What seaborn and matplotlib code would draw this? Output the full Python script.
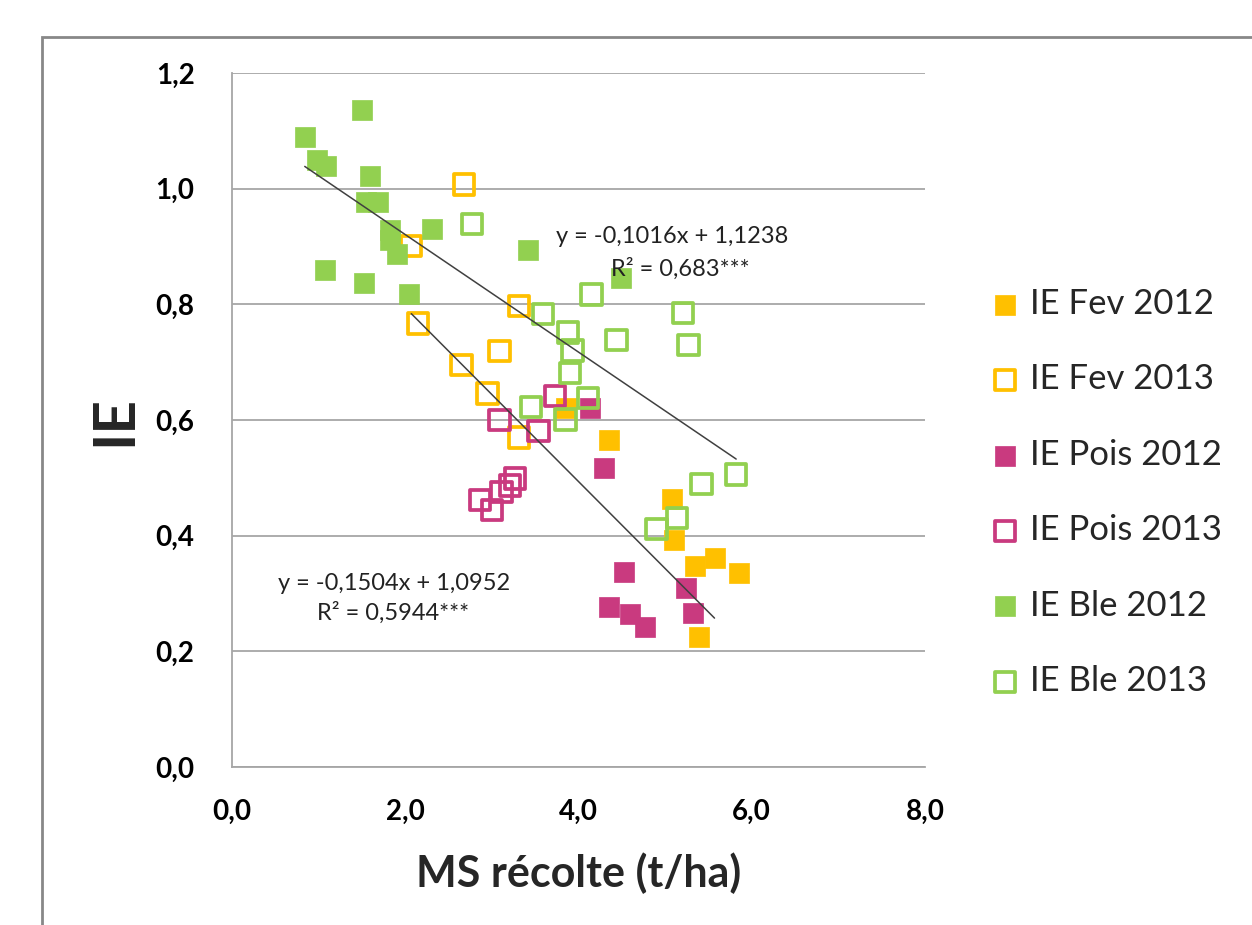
"""
IE vs MS recolte scatter, Fev / Pois / Ble for 2012 and 2013 with two trend lines
"""

import numpy as np
import pandas as pd
import seaborn as sns
import matplotlib.pyplot as plt
from matplotlib.patches import Rectangle

# values
fev_2012_x = [3.85, 4.35, 5.08, 5.10, 5.35, 5.57, 5.85, 5.39]
fev_2012_y = [0.620, 0.566, 0.464, 0.392, 0.347, 0.362, 0.335, 0.225]

fev_2013_x = [2.68, 2.07, 3.31, 2.15, 3.09, 2.65, 2.95, 3.31]
fev_2013_y = [1.007, 0.901, 0.797, 0.767, 0.719, 0.695, 0.646, 0.570]

pois_2012_x = [4.13, 4.30, 4.52, 4.35, 4.60, 4.77, 5.24, 5.32]
pois_2012_y = [0.620, 0.517, 0.338, 0.276, 0.265, 0.242, 0.310, 0.267]

pois_2013_x = [3.73, 3.09, 3.54, 2.86, 3.00, 3.11, 3.21, 3.27]
pois_2013_y = [0.641, 0.600, 0.581, 0.462, 0.444, 0.476, 0.487, 0.499]

ble_2012_x = [0.84, 0.98, 1.08, 1.50, 1.59, 1.55, 1.69, 1.82,
              1.82, 1.90, 2.31, 1.07, 1.52, 2.04, 3.42, 4.49]
ble_2012_y = [1.089, 1.049, 1.040, 1.136, 1.022, 0.977, 0.977, 0.928,
              0.911, 0.887, 0.930, 0.859, 0.837, 0.818, 0.894, 0.846]

ble_2013_x = [2.77, 4.15, 3.59, 3.88, 3.93, 4.44, 5.21, 5.27,
              3.90, 3.45, 4.11, 3.85, 5.82, 5.42, 5.14, 4.90]
ble_2013_y = [0.939, 0.817, 0.783, 0.751, 0.720, 0.738, 0.785, 0.730,
              0.681, 0.623, 0.638, 0.601, 0.506, 0.489, 0.430, 0.411]

series_labels = ["IE Fev 2012", "IE Fev 2013", "IE Pois 2012",
                 "IE Pois 2013", "IE Ble 2012", "IE Ble 2013"]

# trend lines as printed on the chart: slope, intercept, x range
trend_ble = (-0.1016, 1.1238, [0.84, 5.82])
trend_fev = (-0.1504, 1.0952, [2.07, 5.57])

x_ticks = [0, 2, 4, 6, 8]
x_tick_labels = ["0,0", "2,0", "4,0", "6,0", "8,0"]
y_ticks = [0.0, 0.2, 0.4, 0.6, 0.8, 1.0, 1.2]
y_tick_labels = ["0,0", "0,2", "0,4", "0,6", "0,8", "1,0", "1,2"]

orange = "#FFC000"
magenta = "#C93A7F"
green = "#92D050"

sns.set_theme(style="white")
plt.rcParams["font.family"] = ["Lato", "DejaVu Sans"]

fig = plt.figure(figsize=(12.52, 9.25), dpi=100)
ax = fig.add_axes([232 / 1252, 1 - 767 / 925, (925 - 232) / 1252, (767 - 73) / 925])

series = [
    (fev_2012_x, fev_2012_y, orange, True),
    (fev_2013_x, fev_2013_y, orange, False),
    (pois_2012_x, pois_2012_y, magenta, True),
    (pois_2013_x, pois_2013_y, magenta, False),
    (ble_2012_x, ble_2012_y, green, True),
    (ble_2013_x, ble_2013_y, green, False),
]

for (xs, ys, col, filled), lab in zip(series, series_labels):
    df = pd.DataFrame({"x": xs, "y": ys})
    if filled:
        sns.scatterplot(data=df, x="x", y="y", marker="s", s=190, color=col,
                        edgecolor=col, linewidth=0.5, ax=ax, label=lab, zorder=3)
    else:
        sns.scatterplot(data=df, x="x", y="y", marker="s", s=215, facecolor="none",
                        edgecolor=col, linewidth=2.7, ax=ax, label=lab, zorder=3)

# trend lines
for slope, icpt, xr in [trend_ble, trend_fev]:
    xx = np.array(xr)
    ax.plot(xx, slope * xx + icpt, color="#404040", lw=1.1, zorder=4)

eq_style = dict(ha="center", va="center", fontsize=17, color="#222222")
ax.text(5.08, 0.917, "y = -0,1016x + 1,1238", **eq_style)
ax.text(5.17, 0.862, "R² = 0,683***", **eq_style)
ax.text(1.87, 0.318, "y = -0,1504x + 1,0952", **eq_style)
ax.text(1.86, 0.267, "R² = 0,5944***", **eq_style)

ax.set_xlim(0, 8)
ax.set_ylim(0, 1.2)
ax.set_xticks(x_ticks)
ax.set_xticklabels(x_tick_labels, fontsize=20, fontweight="bold")
ax.set_yticks(y_ticks)
ax.set_yticklabels(y_tick_labels, fontsize=20, fontweight="bold")
ax.grid(axis="y", color="#a6a6a6", lw=1.3)
ax.grid(axis="x", visible=False)
ax.set_axisbelow(True)

for side in ["top", "right"]:
    ax.spines[side].set_visible(False)
ax.spines["left"].set_color("#a6a6a6")
ax.spines["bottom"].set_color("#a6a6a6")
ax.spines["left"].set_linewidth(1.3)
ax.spines["bottom"].set_linewidth(1.3)
ax.tick_params(axis="both", which="major", direction="out", colors="#a6a6a6",
               labelcolor="black", width=1.3)
ax.tick_params(axis="y", length=10, pad=17)
ax.tick_params(axis="x", length=11, pad=12)

ax.set_xlabel("MS récolte (t/ha)", fontsize=31, fontweight="bold", labelpad=20)
ax.set_ylabel("IE", fontsize=42, fontweight="bold", labelpad=10)

ax.legend(loc="upper left", bbox_to_anchor=(974 / 1252, 1 - 274 / 925),
          bbox_transform=fig.transFigure, frameon=False, fontsize=25,
          labelspacing=1.25, handlelength=1.0, handletextpad=0.22,
          borderaxespad=0, markerscale=1.0)

# outer chart frame (only top and left edges show in the crop)
fig.add_artist(Rectangle((42 / 1252, -0.2), 1.2, 1.2 - 37 / 925, transform=fig.transFigure,
                         fill=False, edgecolor="#888888", lw=2, clip_on=False))

plt.savefig("out.png", dpi=100)
